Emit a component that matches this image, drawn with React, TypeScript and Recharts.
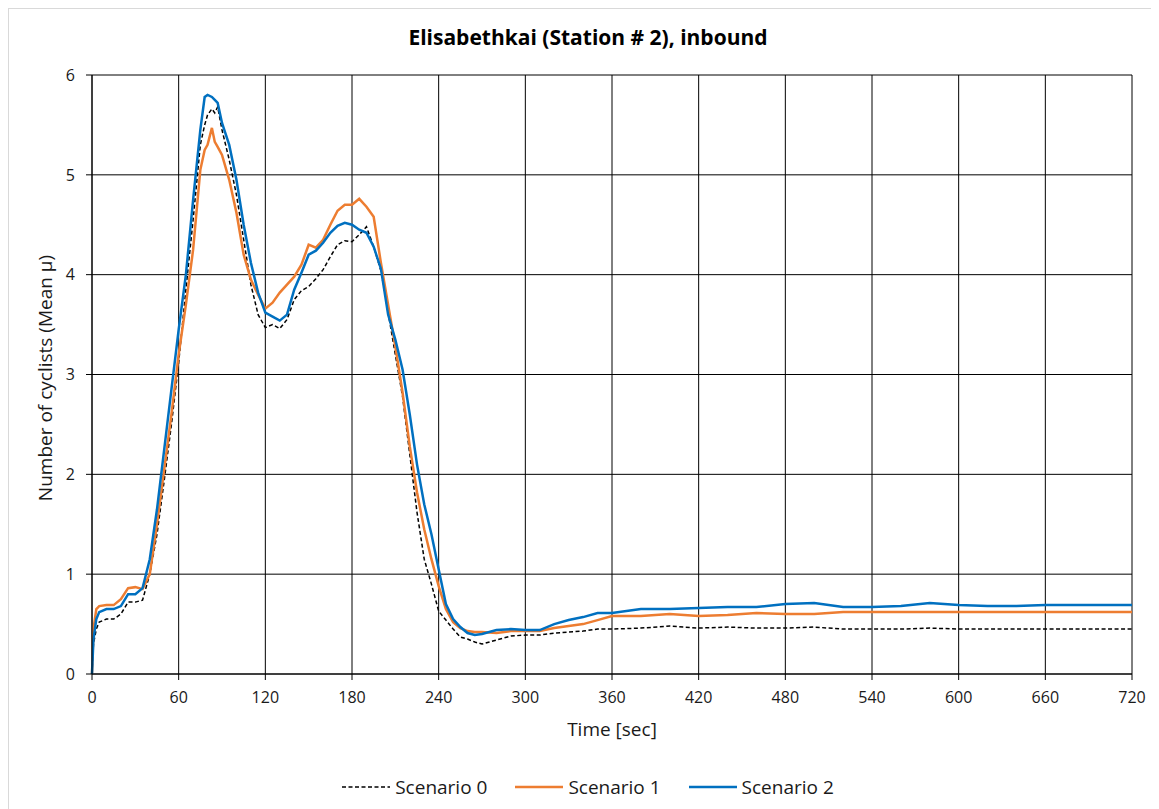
import React from 'react';
import { LineChart, Line, XAxis, YAxis, CartesianGrid } from 'recharts';

// time axis (sec) shared by all three scenarios
const times = [
  0, 1, 3, 5, 10, 15, 20, 25, 30, 35, 40, 45, 50, 55, 60, 65, 70, 75, 78, 80, 83, 85, 87,
  90, 95, 100, 105, 110, 115, 120, 125, 130, 135, 140, 145, 150, 155, 160, 165, 170, 175,
  180, 185, 190, 195, 200, 205, 210, 215, 220, 225, 230, 235, 240, 245, 250, 255, 260, 265,
  270, 280, 290, 300, 310, 320, 330, 340, 350, 360, 380, 400, 420, 440, 460, 480, 500, 520,
  540, 560, 580, 600, 620, 640, 660, 680, 700, 720,
];

const scenario0 = [
  0, 0.3, 0.45, 0.52, 0.55, 0.55, 0.6, 0.72, 0.72, 0.74, 1.0, 1.4, 1.94, 2.5, 3.12, 3.85, 4.55, 5.3, 5.5, 5.6, 5.66, 5.62, 5.68,
  5.45, 5.15, 4.8, 4.35, 3.9, 3.6, 3.47, 3.5, 3.46, 3.55, 3.75, 3.84, 3.88, 3.96, 4.05, 4.18, 4.3, 4.34,
  4.33, 4.4, 4.48, 4.28, 4.04, 3.62, 3.2, 2.78, 2.2, 1.62, 1.15, 0.9, 0.63, 0.54, 0.45, 0.37, 0.35, 0.32,
  0.3, 0.34, 0.38, 0.39, 0.39, 0.41, 0.42, 0.43, 0.45, 0.45, 0.46, 0.48, 0.46, 0.47, 0.46, 0.46, 0.47, 0.45,
  0.45, 0.45, 0.46, 0.45, 0.45, 0.45, 0.45, 0.45, 0.45, 0.45,
];

const scenario1 = [
  0, 0.45, 0.65, 0.68, 0.69, 0.69, 0.75, 0.86, 0.87, 0.85, 1.0, 1.5, 2.05, 2.6, 3.2, 3.7, 4.25, 5.05, 5.25, 5.3, 5.47, 5.33, 5.28,
  5.2, 4.95, 4.62, 4.2, 3.95, 3.8, 3.66, 3.72, 3.82, 3.9, 3.98, 4.1, 4.3, 4.27, 4.35, 4.5, 4.64, 4.7,
  4.7, 4.76, 4.68, 4.58, 4.12, 3.7, 3.28, 2.82, 2.28, 1.82, 1.45, 1.15, 0.88, 0.65, 0.52, 0.46, 0.43, 0.42,
  0.42, 0.41, 0.43, 0.43, 0.43, 0.46, 0.48, 0.5, 0.54, 0.58, 0.58, 0.6, 0.58, 0.59, 0.61, 0.6, 0.6, 0.62,
  0.62, 0.62, 0.62, 0.62, 0.62, 0.62, 0.62, 0.62, 0.62, 0.62,
];

const scenario2 = [
  0, 0.35, 0.55, 0.62, 0.65, 0.65, 0.68, 0.8, 0.8, 0.86, 1.15, 1.65, 2.25, 2.85, 3.45, 4.0, 4.75, 5.45, 5.78, 5.8, 5.78, 5.75, 5.72,
  5.52, 5.3, 4.95, 4.5, 4.12, 3.82, 3.62, 3.58, 3.54, 3.6, 3.85, 4.02, 4.2, 4.24, 4.32, 4.42, 4.49, 4.52,
  4.5, 4.45, 4.42, 4.28, 4.06, 3.6, 3.35, 3.05, 2.6, 2.1, 1.7, 1.4, 1.05, 0.7, 0.55, 0.47, 0.41, 0.39,
  0.4, 0.44, 0.45, 0.44, 0.44, 0.5, 0.54, 0.57, 0.61, 0.61, 0.65, 0.65, 0.66, 0.67, 0.67, 0.7, 0.71, 0.67,
  0.67, 0.68, 0.71, 0.69, 0.68, 0.68, 0.69, 0.69, 0.69, 0.69,
];

const xTicks = [0, 60, 120, 180, 240, 300, 360, 420, 480, 540, 600, 660, 720];
const yTicks = [0, 1, 2, 3, 4, 5, 6];

const series = [
  { key: 's0', name: 'Scenario 0', color: '#000000', width: 1.5, dash: '4 2.5' },
  { key: 's1', name: 'Scenario 1', color: '#ED7D31', width: 2.5, dash: undefined },
  { key: 's2', name: 'Scenario 2', color: '#0070C0', width: 2.5, dash: undefined },
];

const data = times.map((t, i) => ({
  t,
  s0: scenario0[i],
  s1: scenario1[i],
  s2: scenario2[i],
}));

const FONT = '"Open Sans", sans-serif';
const TEXT = '#1a1a1a';

export default function App() {
  return (
    <div
      style={{
        position: 'relative',
        width: 1160,
        height: 810,
        border: '1px solid #d9d9d9',
        background: '#fff',
        fontFamily: FONT,
        boxSizing: 'border-box',
      }}
    >
      <div
        style={{
          position: 'absolute',
          top: 14,
          left: 0,
          width: 1158,
          textAlign: 'center',
          fontSize: 21,
          fontWeight: 700,
          color: '#000',
        }}
      >
        Elisabethkai (Station # 2), inbound
      </div>

      <LineChart
        width={1150}
        height={800}
        data={data}
        margin={{ top: 66, right: 27, bottom: 105, left: 0 }}
      >
        <CartesianGrid stroke="#000" strokeWidth={1} />
        <XAxis
          dataKey="t"
          type="number"
          domain={[0, 720]}
          ticks={xTicks}
          height={30}
          stroke="#000"
          tickSize={6}
          tickMargin={12}
          tick={{ fill: TEXT, fontSize: 16, fontFamily: FONT }}
          label={{
            content: () => (
              <text x={603} y={727} textAnchor="middle" fill={TEXT} fontSize={19} fontFamily={FONT}>
                Time [sec]
              </text>
            ),
          }}
        />
        <YAxis
          type="number"
          domain={[0, 6]}
          ticks={yTicks}
          width={83}
          stroke="#000"
          tickSize={6}
          tickMargin={11}
          tick={{ fill: TEXT, fontSize: 16, fontFamily: FONT }}
          label={{
            content: () => (
              <text
                x={43}
                y={369}
                transform="rotate(-90 43 369)"
                textAnchor="middle"
                fill={TEXT}
                fontSize={19}
                fontFamily={FONT}
              >
                Number of cyclists (Mean µ)
              </text>
            ),
          }}
        />
        {series.map((s) => (
          <Line
            key={s.key}
            type="linear"
            dataKey={s.key}
            name={s.name}
            stroke={s.color}
            strokeWidth={s.width}
            strokeDasharray={s.dash}
            dot={false}
            isAnimationActive={false}
          />
        ))}
      </LineChart>

      {/* Legend */}
      <div
        style={{
          position: 'absolute',
          top: 765,
          left: 0,
          width: 1158,
          display: 'flex',
          justifyContent: 'center',
          gap: 28,
          fontSize: 19,
          color: TEXT,
        }}
      >
        {series.map((s) => (
          <div key={s.key} style={{ display: 'flex', alignItems: 'center', gap: 5 }}>
            <svg width={48} height={6}>
              <line
                x1={0}
                y1={3}
                x2={48}
                y2={3}
                stroke={s.color}
                strokeWidth={s.width}
                strokeDasharray={s.dash}
              />
            </svg>
            <span>{s.name}</span>
          </div>
        ))}
      </div>
    </div>
  );
}
